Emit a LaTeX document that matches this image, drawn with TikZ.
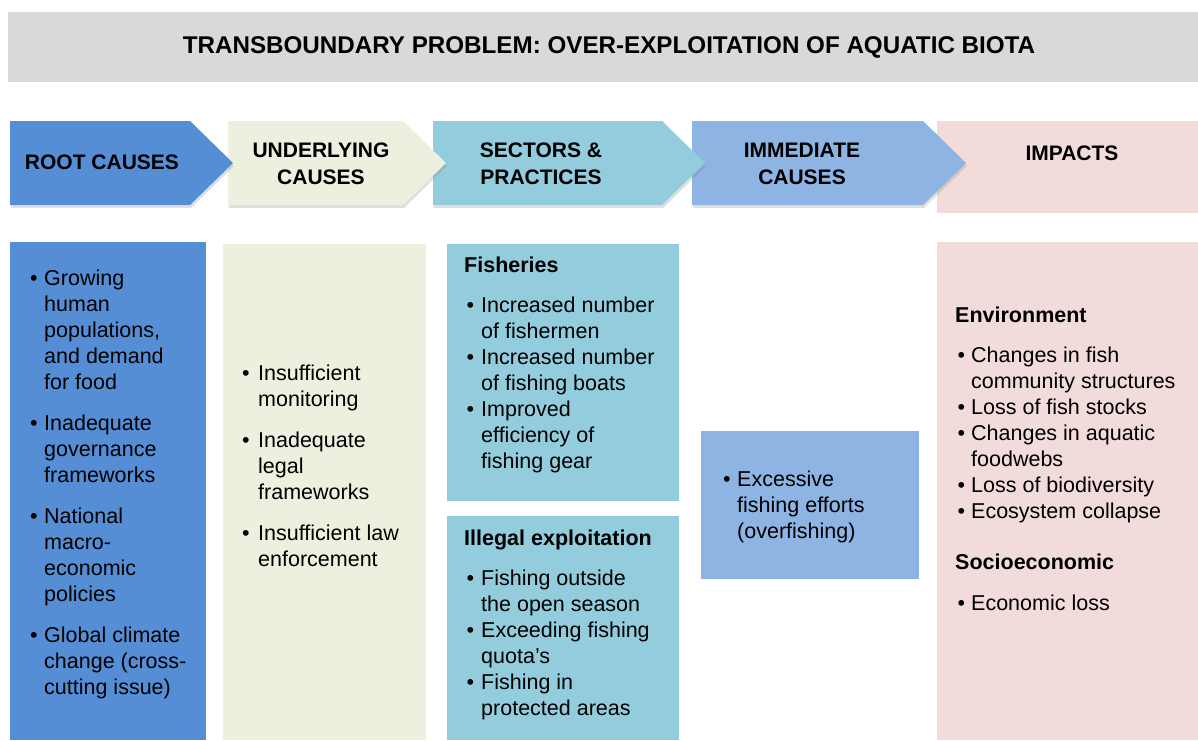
\documentclass[tikz,border=0pt]{standalone}
\usepackage{fontspec}
\setmainfont{Liberation Sans}
\usetikzlibrary{shadows}
\definecolor{hdrgray}{HTML}{D9D9D9}
\definecolor{rootcol}{HTML}{558ED5}
\definecolor{undcol}{HTML}{EBF1DE}
\definecolor{seccol}{HTML}{93CDDD}
\definecolor{immcol}{HTML}{8EB4E3}
\definecolor{impcol}{HTML}{F2DCDB}
\newlength\bhang
\newlength\bofs
\newcommand\bodyfont{\fontsize{21.5}{26}\selectfont}
\newcommand\bitem[1]{\par\noindent\hangindent=\bhang\hangafter=1\makebox[\bhang][l]{\hspace*{\bofs}\textbullet}#1}
\newcommand\colbox[2]{\vtop{\hsize=#1\parindent=0pt\parskip=0pt\rightskip=0pt plus 1fil\bodyfont #2}}
\tikzset{
  arrowshadow/.style={drop shadow={opacity=0.25,shadow xshift=1pt,shadow yshift=-3pt}},
  headlabel/.style={font=\bfseries\fontsize{21}{27}\selectfont, align=center, inner sep=0pt},
  coltext/.style={anchor=base west, inner sep=0pt},
}
\begin{document}
\begin{tikzpicture}[x=1pt,y=-1pt]
\useasboundingbox (0,0) rectangle (1198,740);
% title bar
\fill[hdrgray] (8,12) rectangle (1198,82);
\node[font=\bfseries\fontsize{24.2}{28}\selectfont, inner sep=0pt] (title) at (609,47) {TRANSBOUNDARY PROBLEM: OVER-EXPLOITATION OF AQUATIC BIOTA};
% header chevrons (right to left so tips overlap)
\fill[impcol] (937,121) rectangle (1198,213);
\fill[immcol, arrowshadow] (692,121) -- (923,121) -- (966,163) -- (923,205) -- (692,205) -- cycle;
\fill[seccol, arrowshadow] (433,121) -- (662,121) -- (705,163) -- (662,205) -- (433,205) -- cycle;
\fill[undcol, arrowshadow] (228,121) -- (403,121) -- (446,163) -- (403,205) -- (228,205) -- cycle;
\fill[rootcol, arrowshadow] (10,121) -- (190,121) -- (233,163) -- (190,205) -- (10,205) -- cycle;
\node[headlabel] (hroot) at (102,162) {ROOT CAUSES};
\node[headlabel] (hund) at (321,163.5) {UNDERLYING\\CAUSES};
\node[headlabel] (hsec) at (541,163.5) {SECTORS \&\\PRACTICES};
\node[headlabel] (himm) at (802,163.5) {IMMEDIATE\\CAUSES};
\node[headlabel] (himp) at (1072,153) {IMPACTS};
% lower boxes
\fill[rootcol] (10,242) rectangle (206,740);
\fill[undcol] (223,244) rectangle (426,740);
\fill[seccol] (447,244) rectangle (679,501);
\fill[seccol] (447,516) rectangle (679,740);
\fill[immcol] (701,431) rectangle (919,579);
\fill[impcol] (937,242) rectangle (1198,740);
% column texts
\node[coltext] (troot) at (30,285) {\colbox{175pt}{\setlength\bhang{14pt}\setlength\bofs{0pt}\parskip=15pt
\bitem{Growing\\human\\populations,\\and demand\\for food}
\bitem{Inadequate\\governance\\frameworks}
\bitem{National\\macro-\\economic\\policies}
\bitem{Global climate\\change (cross-\\cutting issue)}}};
\node[coltext] (tund) at (242,380) {\colbox{180pt}{\setlength\bhang{16pt}\setlength\bofs{0pt}\parskip=15pt
\bitem{Insufficient\\monitoring}
\bitem{Inadequate\\legal\\frameworks}
\bitem{Insufficient law\\enforcement}}};
\node[coltext] (tfish) at (464,272) {\colbox{215pt}{\setlength\bhang{17pt}\setlength\bofs{2.5pt}
\textbf{Fisheries}\par\vspace{14pt}
\bitem{Increased number\\of fishermen}
\bitem{Increased number\\of fishing boats}
\bitem{Improved\\efficiency of\\fishing gear}}};
\node[coltext] (till) at (464,545) {\colbox{215pt}{\setlength\bhang{17pt}\setlength\bofs{2.5pt}
\textbf{Illegal exploitation}\par\vspace{14pt}
\bitem{Fishing outside\\the open season}
\bitem{Exceeding fishing\\quota’s}
\bitem{Fishing in\\protected areas}}};
\node[coltext] (timm) at (723,486) {\colbox{190pt}{\setlength\bhang{14pt}\setlength\bofs{0pt}
\bitem{Excessive\\fishing efforts\\(overfishing)}}};
\node[coltext] (timp) at (955,322) {\colbox{240pt}{\setlength\bhang{16pt}\setlength\bofs{2.5pt}
\textbf{Environment}\par\vspace{14pt}
\bitem{Changes in fish\\community structures}
\bitem{Loss of fish stocks}
\bitem{Changes in aquatic\\foodwebs}
\bitem{Loss of biodiversity}
\bitem{Ecosystem collapse}\par\vspace{25pt}
\textbf{Socioeconomic}\par\vspace{15pt}
\bitem{Economic loss}}};
\end{tikzpicture}
\end{document}
